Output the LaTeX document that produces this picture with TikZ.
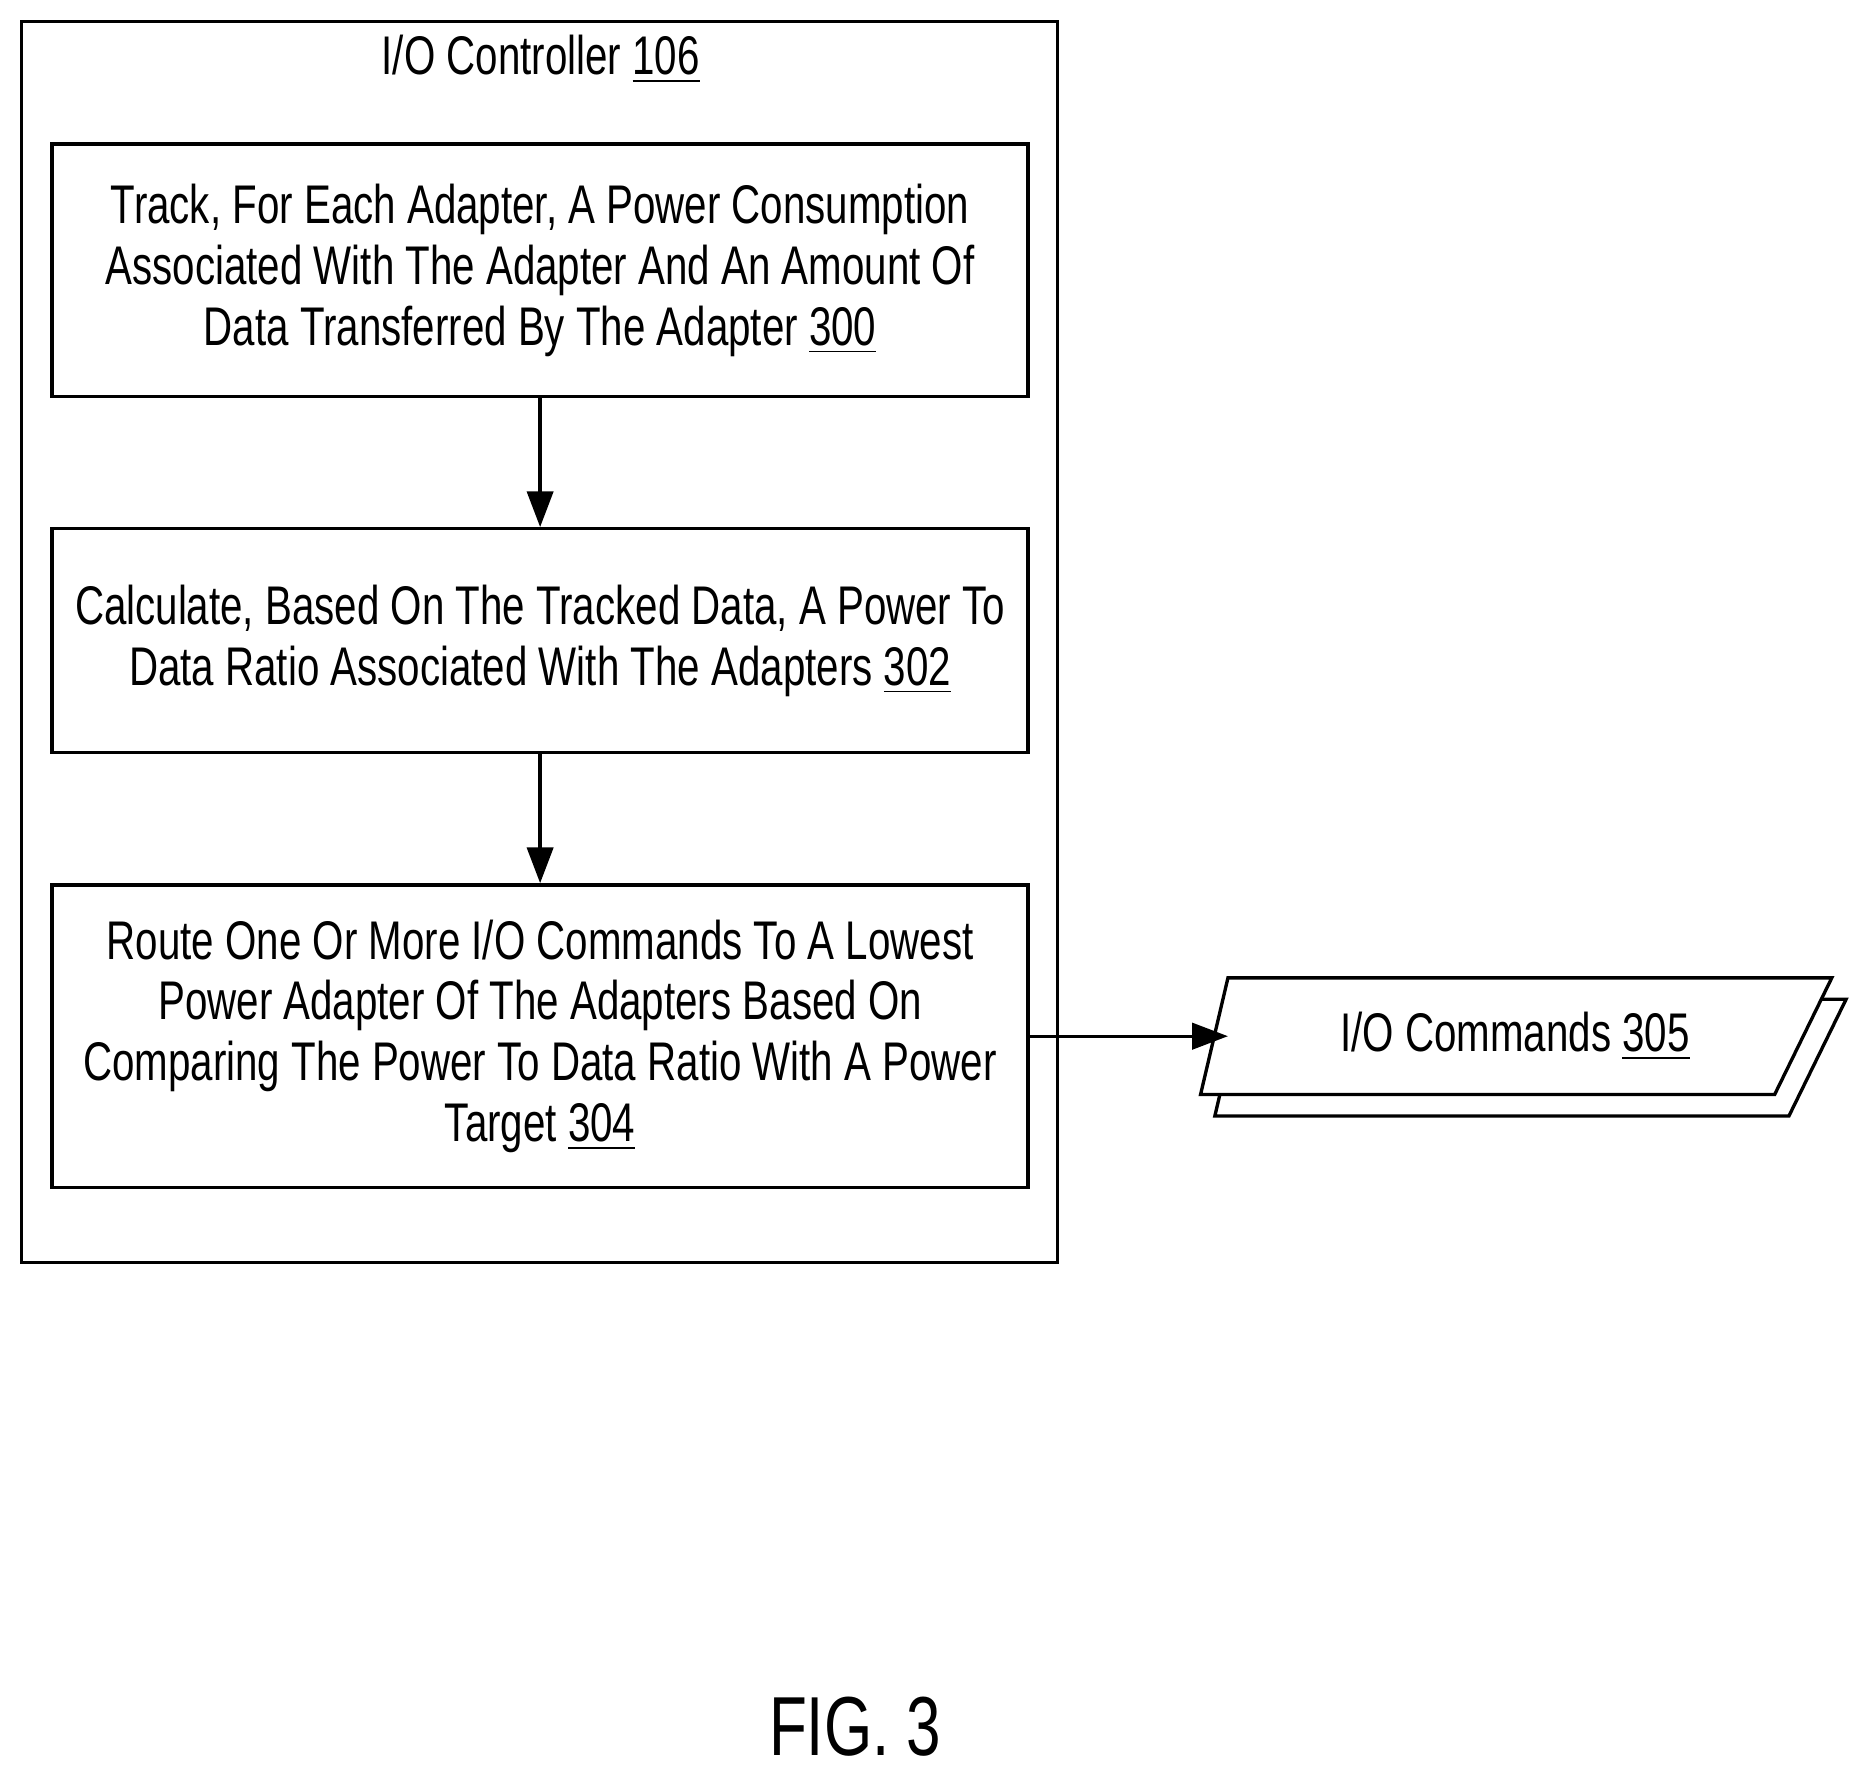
\documentclass[tikz,border=0pt]{standalone}
\usepackage{fontspec}
\setmainfont{Liberation Sans}[FakeStretch=0.74]
\usetikzlibrary{positioning, arrows.meta}
\tikzset{
	label/.style={font=\fontsize{13}{14.5}\selectfont},
	stepbox/.style={draw, thick, minimum width=8.19cm, align=center, inner sep=0pt, label},
	flow/.style={-{Triangle[length=0.3cm, width=0.22cm]}, thick}
}
\begin{document}
\begin{tikzpicture}[x=0.01cm, y=-0.01cm]
	\useasboundingbox (0,0) rectangle (1560,1488);
	% Controller
	\draw[thick] (18,18) rectangle (888,1060);
	\node[label] (title) at (454,50) {I/O Controller \underline{106}};
	% Steps
	\node[stepbox, minimum height=2.12cm] (track) at (453.5,227) {Track, For Each Adapter, A Power Consumption\\Associated With The Adapter And An Amount Of\\Data Transferred By The Adapter \underline{300}};
	\node[stepbox, minimum height=1.88cm] (calc) at (453.5,538) {Calculate, Based On The Tracked Data, A Power To\\Data Ratio Associated With The Adapters \underline{302}};
	\node[stepbox, minimum height=2.54cm] (route) at (453.5,870) {Route One Or More I/O Commands To A Lowest\\Power Adapter Of The Adapters Based On\\Comparing The Power To Data Ratio With A Power\\Target \underline{304}};
	% Output
	\draw[thick, fill=white] (1043,839) -- (1550,839) -- (1502,937) -- (1020,937) -- cycle;
	\draw[thick, fill=white] (1031,821) -- (1538,821) -- (1490,919) -- (1008,919) -- cycle;
	\coordinate (cmds) at (1031,870);
	\node[label] (cmdtext) at (1272,870) {I/O Commands \underline{305}};
	% Connections
	\draw[flow] (track) -- (calc);
	\draw[flow] (calc) -- (route);
	\draw[flow] (route.east |- cmds) -- (cmds);
	\node[font=\fontsize{20}{22}\selectfont] (fig) at (718,1450) {FIG. 3};
\end{tikzpicture}
\end{document}
